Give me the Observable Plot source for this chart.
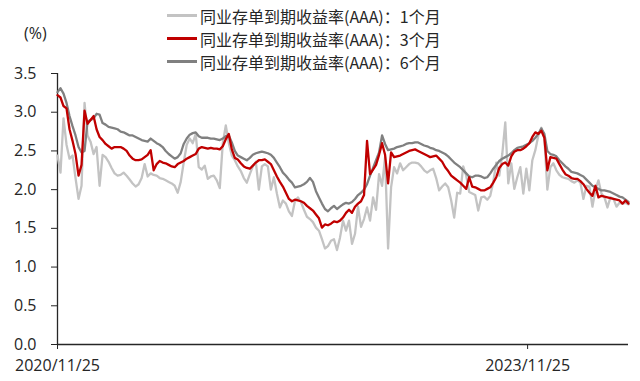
<!DOCTYPE html>
<html><head><meta charset="utf-8">
<script src="https://cdn.jsdelivr.net/npm/d3@7"></script>
<script src="https://cdn.jsdelivr.net/npm/@observablehq/plot@0.6"></script>
<style>
body{margin:0;background:#fff;}
#wrap{position:relative;width:640px;height:381px;font-family:"Open Sans",sans-serif;color:#262626;}
#legend{position:absolute;left:167px;top:4px;font-family:"Noto Sans CJK SC",sans-serif;font-size:16px;color:#262626;}
.row{display:flex;align-items:center;height:23px;white-space:nowrap;}
.sw{width:30px;height:2.5px;margin-right:3px;}
#unit{position:absolute;left:24px;top:22px;font-size:16px;}
</style></head><body>
<div id="wrap"><div id="unit">(%)</div><div id="legend"></div></div>
<script>
const seriesNames = ["同业存单到期收益率(AAA)：1个月","同业存单到期收益率(AAA)：3个月","同业存单到期收益率(AAA)：6个月"];
const seriesColors = ["#c3c3c3","#c00000","#808080"];
const startLabel = "2020/11/25", endLabel = "2024/07/17";
const xTickLabels = ["2020/11/25","2023/11/25"];
const yTicks = [0,0.5,1,1.5,2,2.5,3,3.5];

const v1m = [
2.44,2.22,2.92,2.58,2.40,2.44,2.15,1.88,2.05,3.12,
2.70,2.62,2.46,2.55,2.05,2.45,2.42,2.36,2.28,2.21,
2.18,2.19,2.22,2.18,2.13,2.08,2.04,2.07,2.15,2.33,
2.17,2.21,2.19,2.18,2.15,2.14,2.12,2.10,2.08,2.05,
1.96,2.10,2.35,2.58,2.66,2.60,2.72,2.29,2.26,2.31,
2.14,2.17,2.18,2.12,2.02,2.60,2.83,2.60,2.44,2.38,
2.30,2.24,2.15,2.09,2.20,2.30,2.36,2.00,2.30,2.33,
2.30,2.00,2.16,1.95,1.77,1.86,1.82,1.72,1.66,1.85,
1.90,1.84,1.74,1.65,1.62,1.58,1.51,1.47,1.36,1.24,
1.27,1.34,1.36,1.22,1.38,1.60,1.47,1.60,1.30,1.43,
1.78,1.52,1.62,1.77,1.60,1.90,1.74,2.20,2.05,2.42,
1.24,2.03,2.29,2.21,2.34,2.25,2.29,2.33,2.35,2.35,
2.34,2.30,2.25,2.22,2.25,2.27,2.15,1.99,2.04,2.08,
2.03,1.86,1.64,1.96,1.95,2.30,2.18,1.97,1.95,1.93,
1.73,1.90,1.91,1.87,1.92,2.10,2.35,2.18,2.46,2.87,
2.08,2.34,2.01,2.16,2.29,1.95,2.27,1.99,2.38,2.51,
2.70,2.80,2.67,2.00,2.29,2.34,2.25,2.19,2.16,2.15,
2.14,2.11,2.09,2.12,2.09,1.88,2.05,2.04,1.78,2.00,
2.12,1.95,1.90,1.77,1.90,1.88,1.78,1.83,1.82,1.83,1.81];

const v3m = [
3.22,3.19,3.08,3.05,2.78,2.63,2.46,2.18,2.32,3.02,
2.85,2.90,2.95,2.78,2.68,2.64,2.59,2.56,2.53,2.55,
2.55,2.55,2.53,2.50,2.44,2.40,2.38,2.38,2.39,2.42,
2.45,2.51,2.25,2.33,2.37,2.35,2.34,2.32,2.30,2.29,
2.33,2.35,2.37,2.40,2.42,2.44,2.46,2.53,2.55,2.54,
2.53,2.54,2.53,2.53,2.52,2.56,2.65,2.72,2.52,2.41,
2.39,2.34,2.30,2.28,2.27,2.31,2.35,2.38,2.38,2.39,
2.36,2.33,2.25,2.17,2.10,2.04,1.96,1.88,1.85,1.87,
1.86,1.85,1.83,1.79,1.76,1.73,1.68,1.63,1.51,1.55,
1.54,1.56,1.59,1.58,1.60,1.64,1.70,1.74,1.70,1.78,
1.82,1.85,1.93,2.63,2.20,2.26,2.32,2.45,2.60,2.45,
2.08,2.48,2.42,2.43,2.44,2.46,2.48,2.50,2.51,2.52,
2.50,2.48,2.46,2.44,2.42,2.43,2.44,2.40,2.36,2.29,
2.24,2.18,2.15,2.12,2.09,2.05,2.01,2.16,2.04,2.03,
2.01,1.99,1.99,2.01,2.03,2.09,2.16,2.28,2.33,2.35,
2.31,2.43,2.49,2.51,2.51,2.53,2.56,2.60,2.68,2.74,
2.72,2.76,2.67,2.25,2.42,2.41,2.40,2.33,2.26,2.20,
2.18,2.15,2.14,2.14,2.11,2.07,2.01,1.96,1.92,2.05,
1.90,1.92,1.91,1.90,1.89,1.88,1.87,1.86,1.82,1.86,1.82];

const v6m = [
3.26,3.31,3.24,3.12,2.95,2.82,2.70,2.55,2.48,2.50,
2.88,2.90,2.92,2.98,2.97,2.86,2.84,2.81,2.80,2.79,
2.78,2.75,2.74,2.72,2.70,2.70,2.68,2.66,2.64,2.63,
2.62,2.66,2.63,2.60,2.58,2.55,2.50,2.46,2.43,2.40,
2.42,2.47,2.59,2.66,2.71,2.73,2.74,2.69,2.67,2.67,
2.67,2.66,2.66,2.65,2.64,2.66,2.69,2.70,2.61,2.50,
2.44,2.42,2.40,2.38,2.41,2.45,2.47,2.48,2.49,2.48,
2.47,2.45,2.41,2.35,2.29,2.22,2.18,2.13,2.09,2.03,
2.04,2.05,2.07,2.10,2.15,2.10,1.98,1.90,1.82,1.75,
1.72,1.76,1.79,1.75,1.78,1.81,1.83,1.82,1.84,1.88,
1.93,1.96,2.00,2.07,2.18,2.28,2.38,2.48,2.70,2.59,
2.51,2.52,2.53,2.55,2.56,2.57,2.59,2.60,2.60,2.61,
2.61,2.59,2.57,2.56,2.54,2.53,2.51,2.50,2.48,2.46,
2.43,2.39,2.35,2.32,2.29,2.25,2.21,2.17,2.16,2.18,
2.18,2.17,2.15,2.16,2.21,2.27,2.32,2.37,2.40,2.42,
2.44,2.47,2.51,2.54,2.55,2.56,2.58,2.60,2.63,2.67,
2.72,2.79,2.72,2.50,2.46,2.45,2.43,2.38,2.34,2.30,
2.27,2.23,2.22,2.21,2.19,2.17,2.13,2.09,2.05,2.03,
2.01,1.99,1.99,1.98,1.97,1.95,1.93,1.91,1.90,1.87,1.84];

const parse = d3.utcParse("%Y/%m/%d");
const startDate = parse(startLabel), endDate = parse(endLabel);
// weekly observation dates
const dates = d3.utcDay.range(startDate, d3.utcDay.offset(endDate, 1), 7);
const allValues = [v1m, v3m, v6m];
const tables = allValues.map(vals => vals.map((v, i) => ({date: dates[i], value: v})));

const chart = Plot.plot({
  width: 640, height: 381,
  marginLeft: 57, marginRight: 12, marginTop: 73, marginBottom: 37,
  style: {fontFamily: "'Open Sans', sans-serif", fontSize: "16px", color: "#262626", background: "transparent"},
  x: {type: "utc", domain: [startDate, endDate]},
  y: {domain: [0, 3.5]},
  marks: [
    Plot.axisY({ticks: yTicks, tickSize: 6, tickPadding: 15, tickFormat: d => d.toFixed(1), label: null}),
    Plot.axisX({ticks: xTickLabels.map(parse), tickSize: 5, tickPadding: 10, tickFormat: d3.utcFormat("%Y/%m/%d"), label: null}),
    Plot.ruleY([0], {stroke: "#262626", strokeWidth: 1.3}),
    Plot.ruleX([startDate], {y1: 0, y2: 3.5, stroke: "#262626", strokeWidth: 1.3}),
    Plot.line(tables[0], {x: "date", y: "value", stroke: seriesColors[0], strokeWidth: 2.3}),
    Plot.line(tables[2], {x: "date", y: "value", stroke: seriesColors[2], strokeWidth: 2.3}),
    Plot.line(tables[1], {x: "date", y: "value", stroke: seriesColors[1], strokeWidth: 2.3})
  ]
});
chart.style.position = "absolute";
chart.style.left = "0px";
chart.style.top = "0px";
const wrap = document.getElementById("wrap");
wrap.insertBefore(chart, wrap.firstChild);

const legend = document.getElementById("legend");
seriesNames.forEach((n, i) => {
  const row = document.createElement("div");
  row.className = "row";
  const sw = document.createElement("span");
  sw.className = "sw";
  sw.style.background = seriesColors[i];
  const t = document.createElement("span");
  t.textContent = n;
  row.appendChild(sw);
  row.appendChild(t);
  legend.appendChild(row);
});
</script>
</body></html>
